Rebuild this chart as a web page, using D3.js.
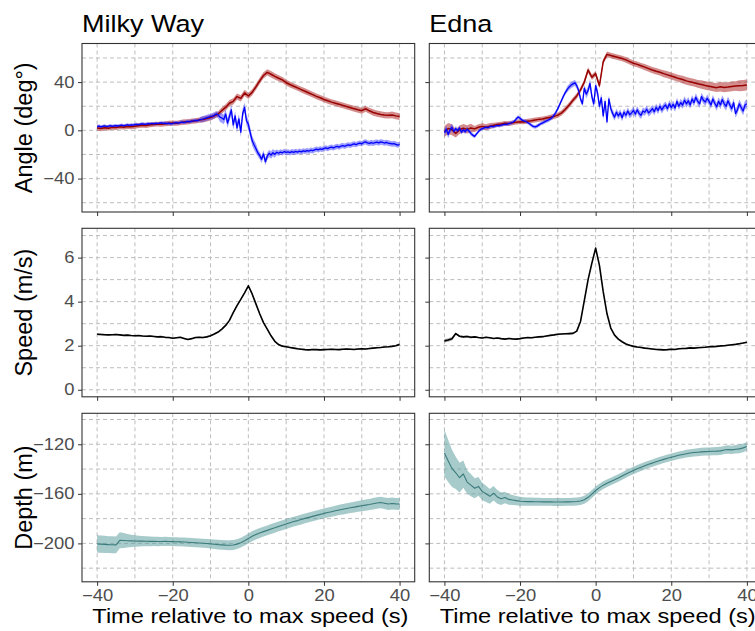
<!DOCTYPE html>
<html>
<head>
<meta charset="utf-8">
<script src="https://cdn.jsdelivr.net/npm/d3@7"></script>
<style>
  body { margin: 0; background: white; }
  svg { display: block; font-family: "Liberation Sans", Arial, sans-serif; }
</style>
</head>
<body>
<div id="chart"></div>
<script>
// ---- data (time axis runs -40..40 s, step given per series) ----
const whales = ["Milky Way", "Edna"];

// angle, red series (1 s steps)
const milkyRed = [
  2.0, 1.5, 2.2, 1.8, 2.5, 2.3, 2.9, 2.6, 3.2, 3.0,
  3.4, 3.9, 4.2, 4.0, 4.6, 4.9, 5.2, 5.0, 5.5, 5.8,
  6.0, 5.9, 6.4, 6.9, 7.1, 7.6, 7.9, 8.5, 9.0, 9.8,
  10.6, 12.0, 13.5, 16.5, 19.0, 22.5, 24.0, 28.0, 26.5, 31.0,
  28.5, 31.5, 36.0, 41.0, 45.5, 48.0, 46.5, 44.8, 43.2, 41.8,
  39.5, 38.0, 36.6, 35.2, 33.8, 32.4, 31.0, 29.6, 28.2, 27.0,
  25.6, 24.5, 23.4, 22.5, 21.6, 20.7, 19.7, 18.8, 17.9, 17.0,
  16.3, 17.9, 16.2, 14.8, 13.9, 13.2, 12.7, 12.5, 12.8, 12.0,
  11.4
];
const ednaRed = [
  -1.0, 1.5, 0.5, -2.5, 0.5, 1.7, 0.8, 2.0, 1.2, 2.6,
  3.3, 2.6, 3.5, 4.2, 4.8, 5.2, 5.8, 5.6, 6.2, 6.8,
  7.2, 7.0, 7.6, 8.0, 8.6, 9.1, 9.4, 10.2, 10.8, 11.6,
  12.6, 14.5, 17.5, 21.0, 25.0, 28.5, 33.5, 40.0, 50.0, 44.0,
  47.0, 37.0, 57.0, 63.0, 62.0, 61.2, 60.4, 59.5, 58.4, 57.0,
  55.6, 54.7, 53.5, 52.4, 51.2, 50.0, 49.0, 48.1, 47.0, 46.0,
  45.0, 44.0, 42.9, 42.1, 41.0, 40.2, 39.5, 38.6, 38.0, 37.2,
  36.6, 36.0, 35.4, 36.2, 35.6, 35.9, 36.4, 36.8, 37.0, 37.2,
  37.6
];

// angle, blue series (0.5 s steps)
const milkyBlue = [
  3.0, 3.5, 2.8, 3.2, 3.6, 3.1, 3.4, 3.9, 3.3, 3.7,
  4.0, 3.6, 3.9, 4.3, 3.8, 4.1, 4.5, 4.2, 4.6, 4.3,
  4.7, 5.0, 4.6, 5.1, 5.4, 4.9, 5.2, 5.6, 5.3, 5.7,
  5.4, 5.8, 5.5, 5.9, 6.2, 5.7, 6.0, 5.6, 5.9, 5.4,
  5.7, 6.1, 6.4, 6.0, 6.6, 6.9, 6.5, 7.0, 7.4, 7.1,
  7.6, 7.9, 8.3, 8.0, 8.6, 9.0, 9.4, 9.9, 10.4, 10.9,
  11.3, 11.8, 12.4, 13.6, 12.8, 11.0, 10.2, 9.0, 13.5, 6.0,
  11.5, 17.0, 4.5, 12.0, 2.0, 9.5, -1.5, 14.0, 19.0, 8.0,
  5.0, -2.0, -8.5, -12.0, -15.0, -18.5, -21.0, -24.0, -19.5, -26.0,
  -21.5, -19.0, -20.5, -18.5, -19.8, -18.2, -19.0, -18.0, -18.6, -17.6,
  -18.3, -17.9, -18.5, -17.7, -18.2, -17.5, -18.0, -17.3, -17.8, -17.0,
  -17.5, -16.8, -17.2, -16.5, -16.9, -16.2, -15.6, -16.1, -15.3, -15.8,
  -15.0, -14.5, -15.1, -14.3, -14.0, -14.6, -13.8, -13.3, -13.9, -13.0,
  -12.6, -13.2, -12.4, -12.0, -12.5, -11.7, -11.3, -11.9, -11.0, -10.6,
  -11.2, -10.0, -9.6, -10.4, -10.8, -10.2, -10.7, -10.1, -9.8, -10.4,
  -9.6, -9.9, -10.5, -10.0, -10.6, -10.9, -11.3, -11.0, -11.6, -12.2,
  -11.8
];
const ednaBlue = [
  -2.0, 1.0, -3.5, 0.5, 2.5, -1.0, 1.5, -0.5, 2.0, -1.5,
  0.5, -1.0, 1.0, -0.5, -2.5, -4.0, -5.0, -3.0, -1.0, 0.5,
  1.5, 2.0, 2.6, 2.2, 3.0, 3.4, 3.0, 3.8, 4.2, 3.9,
  4.4, 4.8, 5.2, 5.0, 5.6, 6.0, 6.5, 7.5, 9.5, 11.0,
  10.0, 8.5, 7.8, 7.5, 6.5, 5.5, 4.2, 3.2, 2.8, 3.5,
  4.5, 5.5, 6.2, 7.0, 7.8, 8.6, 9.5, 10.8, 12.5, 15.0,
  18.0, 21.5, 25.0, 28.5, 31.5, 34.0, 36.0, 37.5, 38.5, 39.5,
  37.0, 33.0, 26.0, 22.0, 35.0, 30.0, 33.0, 39.0, 28.0, 22.0,
  37.0, 31.0, 20.0, 27.0, 12.0, 24.0, 7.0, 26.0, 18.0, 14.0,
  11.0, 15.0, 12.0, 14.5, 10.5, 15.0, 12.5, 16.0, 13.0, 14.5,
  16.5, 13.5, 17.0, 14.0, 12.5, 16.0, 15.0, 17.5, 14.5, 16.0,
  18.0, 15.5, 19.0, 16.5, 20.0, 17.0, 19.5, 21.0, 18.0, 22.0,
  19.0, 21.5, 18.5, 24.0, 20.0, 23.0, 21.0, 25.0, 22.0, 24.5,
  21.0, 26.0, 23.0, 27.5, 24.0, 22.0, 28.0, 25.0, 23.5, 26.5,
  24.0, 21.0, 26.0, 22.5, 19.5, 24.0, 21.0, 25.5, 22.0, 20.0,
  24.5, 21.0, 18.0, 23.0, 14.0, 17.0, 22.0, 19.0, 16.0, 21.0,
  22.0
];

// speed (1 s steps)
const milkySpeed = [
  2.52, 2.51, 2.50, 2.49, 2.50, 2.51, 2.49, 2.47, 2.48, 2.46,
  2.45, 2.46, 2.44, 2.43, 2.44, 2.42, 2.40, 2.41, 2.38, 2.37,
  2.34, 2.36, 2.38, 2.33, 2.28, 2.32, 2.37, 2.38, 2.37, 2.40,
  2.45, 2.53, 2.62, 2.75, 2.92, 3.15, 3.50, 3.82, 4.10, 4.40,
  4.72, 4.35, 3.90, 3.45, 3.05, 2.75, 2.45, 2.20, 2.05, 1.98,
  1.95, 1.92, 1.89, 1.86, 1.84, 1.82, 1.81, 1.83, 1.82, 1.81,
  1.82, 1.83, 1.84, 1.83, 1.82, 1.84, 1.85, 1.84, 1.83, 1.85,
  1.86, 1.85, 1.87, 1.89, 1.91, 1.92, 1.94, 1.95, 1.97, 2.00,
  2.06
];
const ednaSpeed = [
  2.22, 2.26, 2.32, 2.55, 2.43, 2.40, 2.42, 2.38, 2.40, 2.37,
  2.35, 2.38, 2.36, 2.33, 2.35, 2.32, 2.30, 2.33, 2.31, 2.30,
  2.32, 2.35, 2.37, 2.36, 2.38, 2.40, 2.41, 2.44, 2.47, 2.49,
  2.52, 2.53, 2.54, 2.55, 2.56, 2.66, 3.10, 4.05, 5.00, 5.75,
  6.43, 5.65, 4.45, 3.45, 2.80, 2.48, 2.30, 2.18, 2.08, 2.02,
  1.97, 1.94, 1.92, 1.89, 1.87, 1.85, 1.83, 1.82, 1.81, 1.82,
  1.84, 1.83, 1.86, 1.87, 1.88, 1.90, 1.89, 1.91, 1.92, 1.93,
  1.95, 1.96, 1.97, 1.99, 2.00, 2.02, 2.04, 2.06, 2.09, 2.12,
  2.16
];

// depth (1 s steps)
const milkyDepth = [
  -200.5, -200.6, -200.8, -201.0, -201.1, -201.2, -197.5, -197.7, -197.9, -198.0,
  -198.1, -198.2, -198.2, -198.3, -198.4, -198.4, -198.5, -198.5, -198.4, -198.5,
  -198.6, -198.7, -198.8, -198.9, -199.1, -199.3, -199.5, -199.7, -199.9, -200.1,
  -200.4, -200.7, -201.0, -201.2, -201.4, -201.5, -201.3, -200.6, -199.4, -197.8,
  -196.0, -194.3, -192.8, -191.6, -190.5, -189.5, -188.4, -187.4, -186.3, -185.3,
  -184.3, -183.3, -182.4, -181.6, -180.7, -179.8, -179.0, -178.2, -177.4, -176.6,
  -175.8, -175.1, -174.4, -173.7, -173.0, -172.4, -171.8, -171.2, -170.7, -170.1,
  -169.6, -169.1, -168.6, -168.0, -167.4, -167.0, -167.6, -168.2, -167.8, -168.1,
  -168.2
];
const ednaDepth = [
  -127.0, -133.5, -139.5, -143.0, -147.0, -144.0, -150.5, -153.0, -155.5, -154.0,
  -158.0, -160.0, -162.0, -159.5, -162.5, -164.0, -163.0, -164.5, -165.0, -165.5,
  -166.0, -166.2, -166.3, -166.3, -166.4, -166.4, -166.5, -166.5, -166.5, -166.6,
  -166.6, -166.6, -166.5, -166.5, -166.4, -166.2, -165.8, -164.8, -162.8, -160.2,
  -157.3, -155.0, -153.0, -151.5, -150.0, -148.7, -147.2, -145.6, -144.0, -142.5,
  -141.1, -139.8, -138.6, -137.4, -136.2, -135.2, -134.1, -133.1, -132.2, -131.3,
  -130.4, -129.6, -128.9, -128.2, -127.6, -127.1, -126.7, -126.4, -126.1, -125.9,
  -125.8, -125.6, -125.5, -125.3, -124.6, -124.2, -124.5, -124.0, -123.7, -122.9,
  -121.8
];

// ribbon half-widths: 5 s bins (-40, -35, ..., 40) or per second for depth
const milkyRedSe = [2.2, 2.0, 2.0, 2.0, 2.1, 2.2, 2.4, 2.6, 2.6, 2.6, 2.4, 2.4, 2.4, 2.4, 2.5, 2.6, 2.8];
const milkyBlueSe = [1.5, 1.3, 1.3, 1.3, 1.4, 1.5, 2.5, 4.0, 4.0, 3.0, 2.3, 2.2, 2.2, 2.2, 2.2, 2.3, 2.3];
const ednaRedSe = [4.5, 3.5, 2.5, 2.0, 2.0, 2.0, 2.2, 2.3, 2.3, 2.3, 2.4, 2.6, 2.9, 3.2, 3.6, 4.0, 4.5];
const ednaBlueSe = [3.0, 2.0, 1.5, 1.5, 1.5, 1.5, 1.8, 2.5, 3.5, 3.0, 3.0, 3.0, 3.0, 3.2, 3.2, 3.5, 3.5];
const milkySpeedSe = [0.04, 0.03, 0.03, 0.03, 0.03, 0.03, 0.03, 0.04, 0.04, 0.03, 0.03, 0.03, 0.03, 0.03, 0.03, 0.03, 0.03];
const ednaSpeedSe = [0.08, 0.05, 0.03, 0.03, 0.03, 0.03, 0.03, 0.04, 0.04, 0.03, 0.03, 0.03, 0.03, 0.03, 0.03, 0.03, 0.03];
const milkyDepthSe = [
  7.0, 7.0, 7.0, 6.8, 6.8, 6.8, 6.5, 6.0, 5.5, 5.0,
  4.6, 4.4, 4.2, 4.0, 3.9, 3.8, 3.8, 3.7, 3.7, 3.7,
  3.6, 3.6, 3.6, 3.6, 3.6, 3.6, 3.6, 3.6, 3.6, 3.6,
  3.7, 3.8, 3.9, 4.0, 4.0, 4.0, 4.0, 4.0, 4.0, 4.0,
  4.0, 4.0, 4.0, 4.0, 4.0, 4.0, 4.0, 4.0, 4.0, 4.0,
  4.0, 4.0, 4.0, 4.0, 4.0, 4.0, 4.0, 4.0, 4.0, 4.0,
  4.0, 4.0, 4.0, 4.1, 4.1, 4.2, 4.2, 4.3, 4.3, 4.4,
  4.4, 4.5, 4.5, 4.6, 4.6, 4.7, 4.7, 4.8, 4.8, 4.8,
  4.8
];
const ednaDepthSe = [
  19, 17, 15, 13, 12, 11, 9.5, 9, 8, 7.5,
  7, 6.5, 6, 5.8, 5.5, 5, 4.6, 4.3, 4.0, 3.8,
  3.6, 3.5, 3.4, 3.3, 3.3, 3.2, 3.2, 3.2, 3.2, 3.2,
  3.2, 3.2, 3.2, 3.2, 3.2, 3.2, 3.2, 3.2, 3.2, 3.2,
  3.2, 3.1, 3.1, 3.0, 3.0, 3.0, 3.0, 3.0, 3.0, 3.0,
  3.0, 3.0, 3.0, 3.0, 3.0, 3.0, 3.0, 3.0, 3.0, 3.0,
  3.0, 3.0, 3.0, 3.0, 3.1, 3.1, 3.1, 3.2, 3.2, 3.2,
  3.2, 3.2, 3.3, 3.3, 3.3, 3.4, 3.4, 3.4, 3.5, 3.5,
  3.5
];

// axis ticks
const xTicks = [-40, -20, 0, 20, 40];
const xMinor = [-30, -10, 10, 30];
const angleTicks = [-40, 0, 40], angleMinor = [-60, -20, 20, 60];
const speedTicks = [0, 2, 4, 6], speedMinor = [1, 3, 5, 7];
const depthTicks = [-200, -160, -120], depthMinor = [-220, -180, -140, -100];

// ---- layout ----
const width = 755, height = 631;
const colLeft = [82, 429.3], panelW = 332.7;
const rowTop = [43.5, 228.3, 413.3], panelH = 168.5;
const sx = 1.15; // text in the original export is a bit wide

const rows = [
  { title: "Angle (deg°)", domain: [-67.7, 72], ticks: angleTicks, minor: angleMinor },
  { title: "Speed (m/s)", domain: [-0.32, 7.33], ticks: speedTicks, minor: speedMinor },
  { title: "Depth (m)", domain: [-231, -95], ticks: depthTicks, minor: depthMinor }
];

let svg = d3.select('#chart')
    .append('svg')
    .attr('width', width)
    .attr('height', height)
    .style('background', 'white');

function makePanel(c, r) {
  const x = d3.scaleLinear().domain([-44, 44]).range([colLeft[c], colLeft[c] + panelW]);
  const y = d3.scaleLinear().domain(rows[r].domain).range([rowTop[r] + panelH, rowTop[r]]);
  const g = svg.append('g');

  g.append('rect')
    .attr('x', colLeft[c]).attr('y', rowTop[r])
    .attr('width', panelW).attr('height', panelH)
    .attr('fill', 'white');

  // dashed grid, major and minor look the same
  g.selectAll('.vg').data(xTicks.concat(xMinor)).join('line')
    .attr('x1', d => x(d)).attr('x2', d => x(d))
    .attr('y1', rowTop[r]).attr('y2', rowTop[r] + panelH);
  g.selectAll('.hg').data(rows[r].ticks.concat(rows[r].minor)).join('line')
    .attr('x1', colLeft[c]).attr('x2', colLeft[c] + panelW)
    .attr('y1', d => y(d)).attr('y2', d => y(d));
  g.selectAll('line')
    .attr('stroke', '#bdbdbd')
    .attr('stroke-width', 1)
    .attr('stroke-dasharray', '4,3');

  return { g, x, y, c, r };
}

// ribbon (value +/- half-width), returns the points for the line
function drawRibbon(p, values, step, se, fillColor, fillOpacity) {
  const pts = values.map((v, i) => {
    const t = -40 + i * step;
    const s = se.length === values.length ? se[i] : se[Math.round((t + 40) / 5)];
    return { t: t, v: v, lo: v - s, hi: v + s };
  });
  p.g.append('path')
    .datum(pts)
    .attr('d', d3.area().x(d => p.x(d.t)).y0(d => p.y(d.lo)).y1(d => p.y(d.hi)))
    .attr('fill', fillColor)
    .attr('fill-opacity', fillOpacity)
    .attr('stroke', 'none');
  return pts;
}

function drawLine(p, pts, lineColor, lineWidth) {
  p.g.append('path')
    .datum(pts)
    .attr('d', d3.line().x(d => p.x(d.t)).y(d => p.y(d.v)))
    .attr('fill', 'none')
    .attr('stroke', lineColor)
    .attr('stroke-width', lineWidth)
    .attr('stroke-linejoin', 'round');
}

function finishPanel(p) {
  const { c, r, x, y } = p;
  p.g.append('rect')
    .attr('x', colLeft[c]).attr('y', rowTop[r])
    .attr('width', panelW).attr('height', panelH)
    .attr('fill', 'none')
    .attr('stroke', '#333333')
    .attr('stroke-width', 1.1);

  // x axis
  let xa = svg.append('g')
    .attr('transform', `translate(0,${rowTop[r] + panelH})`)
    .call(d3.axisBottom(x).tickValues(xTicks).tickSize(4).tickPadding(4))
    .attr('font-size', null).attr('font-family', null);
  xa.select('.domain').remove();
  xa.selectAll('line').attr('stroke', '#333333');
  if (r < 2) xa.selectAll('text').remove();
  else xa.selectAll('text')
    .attr('font-size', 16).attr('fill', '#4d4d4d')
    .attr('transform', `scale(${sx},1)`);

  // y axis
  let ya = svg.append('g')
    .attr('transform', `translate(${colLeft[c]},0)`)
    .call(d3.axisLeft(y).tickValues(rows[r].ticks).tickSize(4).tickPadding(2.5))
    .attr('font-size', null).attr('font-family', null);
  ya.select('.domain').remove();
  ya.selectAll('line').attr('stroke', '#333333');
  if (c > 0) ya.selectAll('text').remove();
  else ya.selectAll('text')
    .attr('font-size', 16).attr('fill', '#4d4d4d')
    .attr('transform', `scale(${sx},1)`);
}

const angleData = [
  [[milkyRed, 1, milkyRedSe], [milkyBlue, 0.5, milkyBlueSe]],
  [[ednaRed, 1, ednaRedSe], [ednaBlue, 0.5, ednaBlueSe]]
];
const speedData = [[milkySpeed, milkySpeedSe], [ednaSpeed, ednaSpeedSe]];
const depthData = [[milkyDepth, milkyDepthSe], [ednaDepth, ednaDepthSe]];

whales.forEach((name, c) => {
  // angle
  let p = makePanel(c, 0);
  const [red, blue] = angleData[c];
  const redPts = drawRibbon(p, red[0], red[1], red[2], '#b03030', 0.55);
  const bluePts = drawRibbon(p, blue[0], blue[1], blue[2], '#3c3cff', 0.5);
  drawLine(p, redPts, '#990000', 1.5);
  drawLine(p, bluePts, '#0000ff', 1.3);
  finishPanel(p);

  // speed
  p = makePanel(c, 1);
  const sp = drawRibbon(p, speedData[c][0], 1, speedData[c][1], '#808080', 0.6);
  drawLine(p, sp, '#000000', 1.6);
  finishPanel(p);

  // depth
  p = makePanel(c, 2);
  const dp = drawRibbon(p, depthData[c][0], 1, depthData[c][1], '#5f9ea0', 0.55);
  drawLine(p, dp, '#3b7b7b', 1.1);
  finishPanel(p);

  // facet title
  svg.append('text')
    .text(name)
    .attr('transform', `translate(${colLeft[c]},32) scale(${sx},1)`)
    .attr('font-size', 23.5)
    .attr('fill', 'black');

  // x-axis title
  svg.append('text')
    .text('Time relative to max speed (s)')
    .attr('transform', `translate(${colLeft[c] + panelW / 2 + 2},623) scale(${sx},1)`)
    .attr('text-anchor', 'middle')
    .attr('font-size', 20.5)
    .attr('fill', 'black');
});

// y-axis titles
rows.forEach((row, r) => {
  svg.append('text')
    .text(row.title)
    .attr('transform', `translate(32,${rowTop[r] + panelH / 2}) rotate(-90)`)
    .attr('text-anchor', 'middle')
    .attr('font-size', 23.5)
    .attr('fill', 'black');
});
</script>
</body>
</html>
